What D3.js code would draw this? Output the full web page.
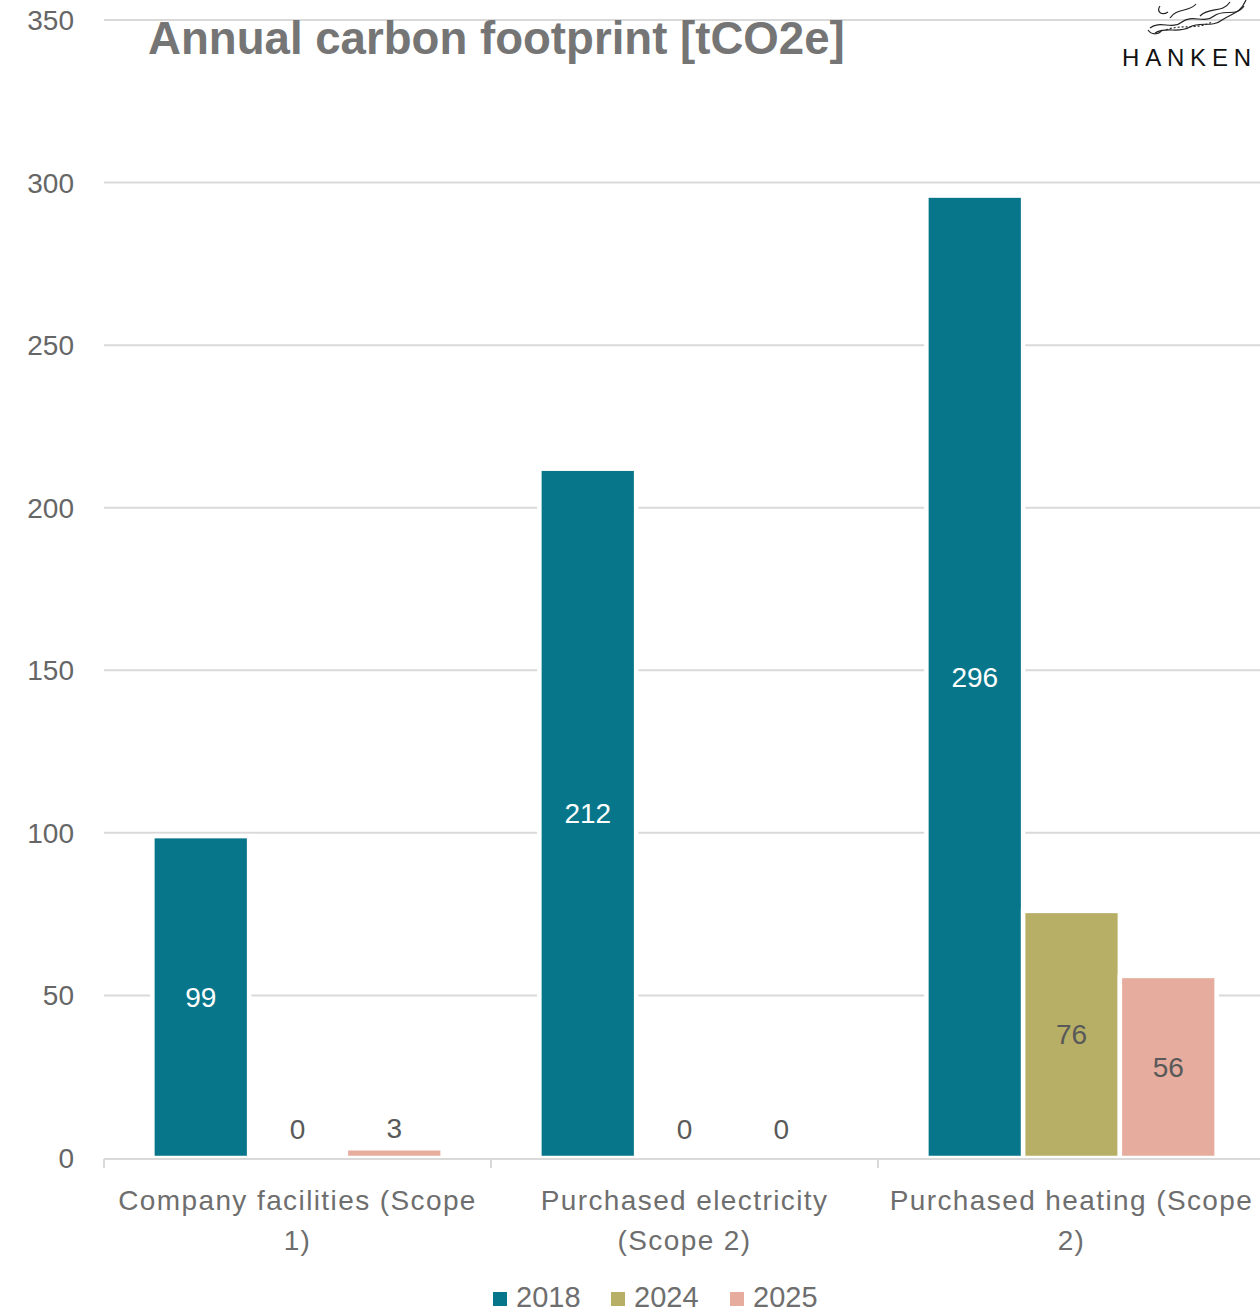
<!DOCTYPE html>
<html>
<head>
<meta charset="utf-8">
<script src="https://cdn.jsdelivr.net/npm/d3@7"></script>
<style>
  html, body { margin: 0; padding: 0; background: #fff; }
  svg { display: block; }
  text { font-family: "Liberation Sans", Arial, sans-serif; }
</style>
</head>
<body>
<svg id="chart" width="1260" height="1313"></svg>
<script>
// Carbon footprint per emission source, tonnes CO2e
const categories = [
  ["Company facilities (Scope", "1)"],
  ["Purchased electricity", "(Scope 2)"],
  ["Purchased heating (Scope", "2)"]
];
const seriesNames = ["2018", "2024", "2025"];
const values2018 = [99, 212, 296];
const values2024 = [0, 0, 76];
const values2025 = [3, 0, 56];
const yTicks = [0, 50, 100, 150, 200, 250, 300, 350];

const colors = ["#08768A", "#B8AF67", "#E6AC9D"];
const labelColors = ["#ffffff", "#595959", "#595959"];

const svg = d3.select("#chart");
const plotLeft = 104, plotRight = 1265, plotTop = 20, plotBottom = 1158;

const x = d3.scaleBand().domain(d3.range(categories.length)).range([plotLeft, plotRight]).padding(0);
const xs = d3.scaleBand().domain(seriesNames).range([0, x.bandwidth()]).paddingInner(0).paddingOuter(0.5);
const y = d3.scaleLinear().domain([0, 350]).range([plotBottom, plotTop]);

// gridlines
svg.append("g")
  .selectAll("line").data(yTicks.filter(d => d > 0)).join("line")
  .attr("x1", plotLeft).attr("x2", 1260)
  .attr("y1", d => y(d)).attr("y2", d => y(d))
  .attr("stroke", "#d9d9d9").attr("stroke-width", 2);

// y tick labels
svg.append("g")
  .selectAll("text").data(yTicks).join("text")
  .attr("x", 74).attr("y", d => y(d) + 10)
  .attr("text-anchor", "end")
  .attr("font-size", 28).attr("fill", "#666666")
  .text(d => d);

const allSeries = [values2018, values2024, values2025];
const rows = [];
allSeries.forEach((vals, si) => vals.forEach((v, ci) => rows.push({ si, ci, v })));

// bars
svg.append("g")
  .selectAll("rect").data(rows.filter(d => d.v > 0)).join("rect")
  .attr("x", d => x(d.ci) + xs(seriesNames[d.si]))
  .attr("width", xs.bandwidth())
  .attr("y", d => y(d.v))
  .attr("height", d => y(0) - y(d.v))
  .attr("fill", d => colors[d.si])
  .attr("stroke", "#ffffff").attr("stroke-width", 4.5);

// x axis line and ticks
const axisG = svg.append("g").attr("stroke", "#d9d9d9").attr("stroke-width", 2);
axisG.append("line").attr("x1", plotLeft).attr("x2", 1260).attr("y1", plotBottom + 1).attr("y2", plotBottom + 1);
axisG.selectAll("line.tick").data(d3.range(categories.length)).join("line")
  .attr("class", "tick")
  .attr("x1", d => x(d)).attr("x2", d => x(d))
  .attr("y1", plotBottom + 1).attr("y2", plotBottom + 10);

// data labels: centred inside tall bars, just above small ones
const isInside = d => y(0) - y(d.v) > 40;
svg.append("g")
  .selectAll("text").data(rows).join("text")
  .attr("x", d => x(d.ci) + xs(seriesNames[d.si]) + xs.bandwidth() / 2)
  .attr("y", d => isInside(d) ? (y(d.v) + y(0)) / 2 + 10 : Math.min(y(d.v) - 10, y(0) - 19))
  .attr("text-anchor", "middle")
  .attr("font-size", 28)
  .attr("fill", d => isInside(d) ? labelColors[d.si] : "#595959")
  .text(d => d.v);

// category labels
const catG = svg.append("g");
categories.forEach((lines, ci) => {
  lines.forEach((ln, li) => {
    catG.append("text")
      .attr("x", x(ci) + x.bandwidth() / 2)
      .attr("y", 1210 + li * 40)
      .attr("text-anchor", "middle")
      .attr("font-size", 28).attr("letter-spacing", 1.4).attr("fill", "#6e6e6e")
      .text(ln);
  });
});

// legend
const legendX = [493, 611, 730];
const lg = svg.append("g");
seriesNames.forEach((s, i) => {
  lg.append("rect").attr("x", legendX[i]).attr("y", 1292).attr("width", 14).attr("height", 14).attr("fill", colors[i]);
  lg.append("text").attr("x", legendX[i] + 23).attr("y", 1307)
    .attr("font-size", 29).attr("fill", "#6e6e6e").text(s);
});

// title, bold, fitted to its line width
const title = svg.append("text")
  .attr("x", 148).attr("y", 54)
  .attr("font-size", 46).attr("font-weight", 700).attr("fill", "#757575")
  .text("Annual carbon footprint [tCO2e]");
const tw = title.node().getComputedTextLength();
if (tw > 0) title.attr("font-size", 46 * 697 / tw);

// Hanken logo: ornament strokes and wordmark
const logo = svg.append("g").attr("fill", "none").attr("stroke", "#222").attr("stroke-width", 1.2);
logo.append("path").attr("d", "M1150,28 C1160,20 1172,30 1182,22 C1192,14 1204,24 1214,16 C1224,8 1236,18 1244,6");
logo.append("path").attr("d", "M1155,33 C1166,26 1178,34 1190,27 C1200,21 1212,28 1222,20 C1232,13 1240,14 1246,0");
logo.append("path").attr("d", "M1170,18 C1176,8 1190,12 1196,4 M1200,16 C1210,6 1222,14 1230,2");
logo.append("path").attr("d", "M1160,6 C1156,12 1162,16 1168,12 M1148,30 C1152,36 1160,34 1162,30");
logo.append("path").attr("stroke-dasharray", "2,2").attr("d", "M1166,30 C1180,24 1196,30 1212,22");
svg.append("text")
  .attr("x", 1122).attr("y", 66)
  .attr("font-size", 24).attr("letter-spacing", 5.8).attr("fill", "#111")
  .attr("font-family", "DejaVu Sans, sans-serif")
  .text("HANKEN");
</script>
</body>
</html>
